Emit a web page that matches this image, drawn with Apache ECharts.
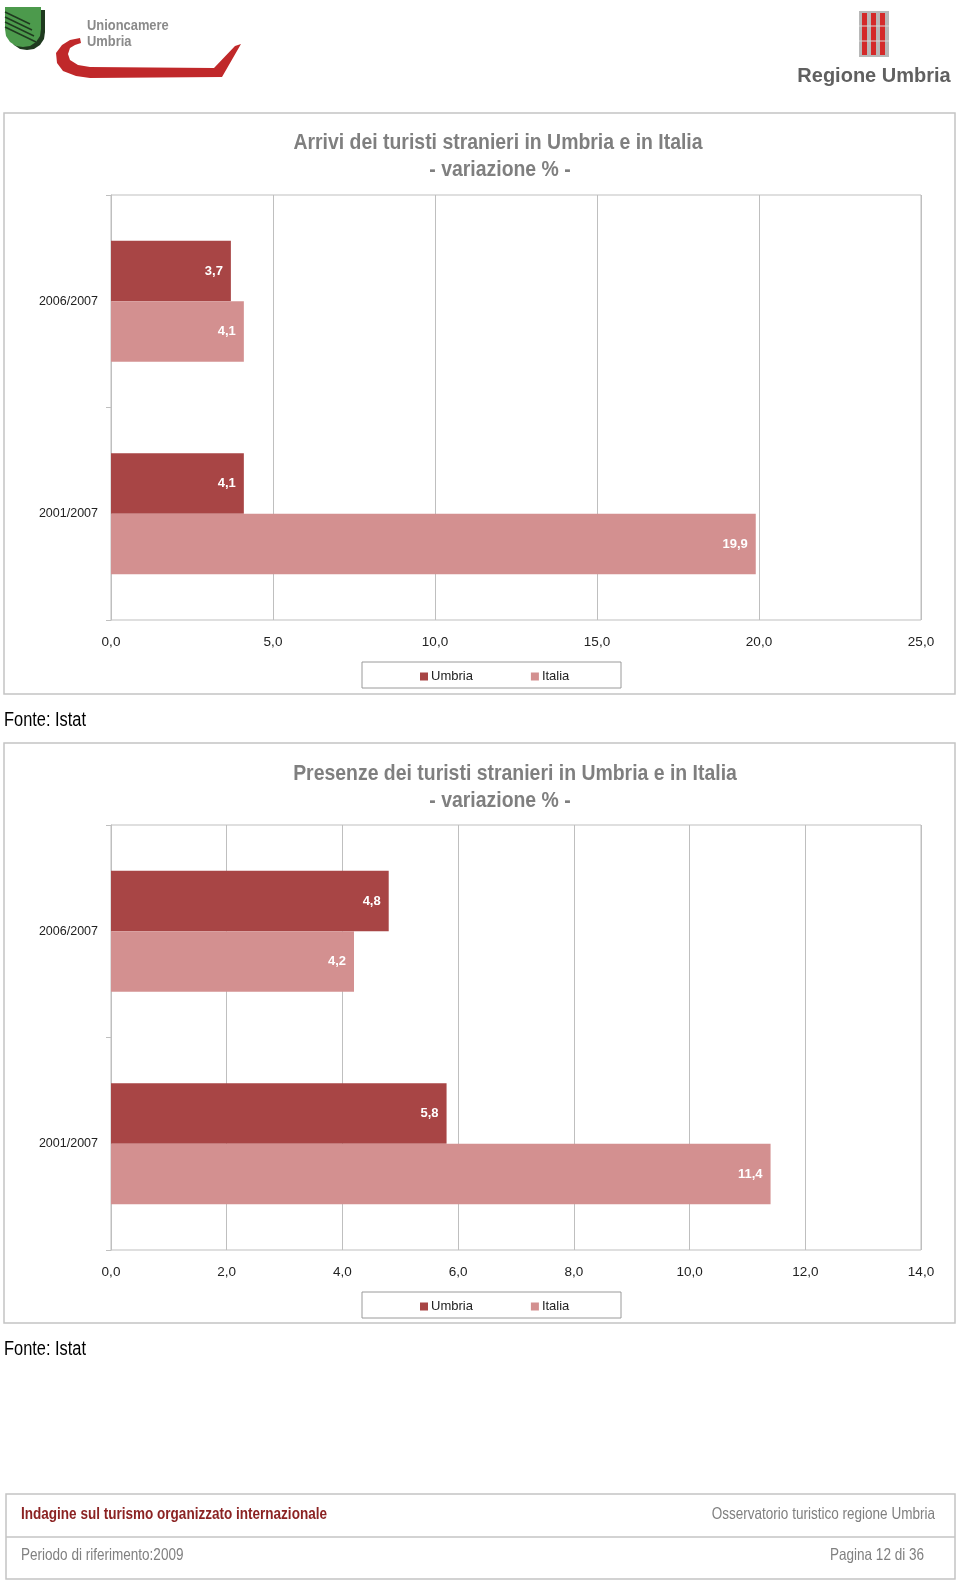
<!DOCTYPE html>
<html>
<head>
<meta charset="utf-8">
<script src="https://cdn.jsdelivr.net/npm/echarts@6/dist/echarts.min.js"></script>
<style>
html,body{margin:0;padding:0;background:#fff;}
#c{width:960px;height:1582px;}
</style>
</head>
<body>
<div id="c"></div>
<script>
// ---- data ----
const categories = ['2006/2007', '2001/2007'];
const seriesNames = ['Umbria', 'Italia'];
const arriviUmbria = [3.7, 4.1];
const arriviItalia = [4.1, 19.9];
const presenzeUmbria = [4.8, 5.8];
const presenzeItalia = [4.2, 11.4];
const arriviAxis = { min: 0, max: 25, interval: 5 };
const presenzeAxis = { min: 0, max: 14, interval: 2 };
const titleArrivi = ['Arrivi dei turisti stranieri in Umbria e in Italia', '- variazione % -'];
const titlePresenze = ['Presenze dei turisti stranieri in Umbria e in Italia', '- variazione % -'];
const sourceText = 'Fonte: Istat';

// ---- styles ----
const C_UMB = '#A84545';
const C_ITA = '#D39090';
const GRID = '#BFBFBF';
const SANS = '"Liberation Sans", Arial, sans-serif';
const fmt = v => Number(v).toFixed(1).replace('.', ',');

// condensed text via horizontal scaling (no narrow font installed)
function ntext(text, x, y, font, fill, align, sx) {
  return { type: 'text', x: x, y: y, scaleX: sx || 0.82, silent: true,
    style: { text: text, x: 0, y: 0, textAlign: align || 'left', textVerticalAlign: 'middle', font: font, fill: fill } };
}

const chart = echarts.init(document.getElementById('c'), null, { renderer: 'canvas' });

function grid(top) { return { left: 111, top: top, width: 810, height: 425, show: true, borderColor: GRID, borderWidth: 1, backgroundColor: 'transparent' }; }
function xAx(i, ax) {
  return {
    type: 'value', gridIndex: i, min: ax.min, max: ax.max, interval: ax.interval,
    axisLine: { show: false }, axisTick: { show: false },
    splitLine: { show: true, lineStyle: { color: GRID, width: 1 } },
    axisLabel: { formatter: fmt, color: '#222', fontFamily: SANS, fontSize: 13.5, margin: 15 }
  };
}
function yAx(i) {
  return {
    type: 'category', gridIndex: i, data: categories, inverse: true,
    axisLine: { show: true, lineStyle: { color: GRID } },
    axisTick: { show: true, length: 5, lineStyle: { color: GRID } },
    axisLabel: { color: '#222', fontFamily: SANS, fontSize: 12.5, margin: 13 }
  };
}
function bar(name, data, i, color) {
  return {
    type: 'bar', name: name, data: data, xAxisIndex: i, yAxisIndex: i,
    barGap: '0%', barCategoryGap: '43%',
    itemStyle: { color: color },
    label: { show: true, position: 'insideRight', distance: 8, formatter: p => fmt(p.value),
      color: '#fff', fontWeight: 'bold', fontFamily: SANS, fontSize: 13 },
    emphasis: { disabled: true }, animation: false
  };
}
function legend(top) {
  return {
    data: seriesNames, left: 420, top: top, padding: 0, icon: 'rect', itemWidth: 8, itemHeight: 8, itemGap: 58,
    textStyle: { color: '#222', fontFamily: SANS, fontSize: 13, padding: [0, 0, 0, -2] },
    selectedMode: false
  };
}

const TFONT = 'bold 22px ' + SANS;
const TSX = 0.883;
const FFONT = '16.5px ' + SANS;
const graphics = [
  // chart frames
  { type: 'rect', shape: { x: 4, y: 113, width: 951, height: 581 }, style: { fill: 'none', stroke: '#C4C4C4', lineWidth: 1.5 }, silent: true },
  { type: 'rect', shape: { x: 4, y: 743, width: 951, height: 580 }, style: { fill: 'none', stroke: '#C4C4C4', lineWidth: 1.5 }, silent: true },
  // chart titles
  ntext(titleArrivi[0], 498, 143, TFONT, '#7F7F7F', 'center', TSX),
  ntext(titleArrivi[1], 500, 170, TFONT, '#7F7F7F', 'center', TSX),
  ntext(titlePresenze[0], 515, 774, TFONT, '#7F7F7F', 'center', TSX),
  ntext(titlePresenze[1], 500, 801, TFONT, '#7F7F7F', 'center', TSX),
  // legend boxes
  { type: 'rect', shape: { x: 362, y: 662, width: 259, height: 26 }, style: { fill: 'none', stroke: '#9A9A9A', lineWidth: 1 }, silent: true },
  { type: 'rect', shape: { x: 362, y: 1292, width: 259, height: 26 }, style: { fill: 'none', stroke: '#9A9A9A', lineWidth: 1 }, silent: true },
  // sources
  ntext(sourceText, 4, 720, '20px ' + SANS, '#000'),
  ntext(sourceText, 4, 1349, '20px ' + SANS, '#000'),
  // footer
  { type: 'rect', shape: { x: 6, y: 1494, width: 949, height: 85 }, style: { fill: 'none', stroke: '#C4C4C4', lineWidth: 1.5 }, silent: true },
  { type: 'line', shape: { x1: 6, y1: 1537, x2: 955, y2: 1537 }, style: { stroke: '#C4C4C4', lineWidth: 1.5 }, silent: true },
  ntext('Indagine sul turismo organizzato internazionale', 21, 1514, 'bold 16.5px ' + SANS, '#8B2323'),
  ntext('Osservatorio turistico regione Umbria', 935, 1514, FFONT, '#808080', 'right'),
  ntext('Periodo di riferimento:2009', 21, 1555, FFONT, '#808080'),
  ntext('Pagina 12 di 36', 924, 1555, FFONT, '#808080', 'right'),
  // Unioncamere logo: shield
  { type: 'polygon', shape: { points: [[9,10],[45,10],[45,32],[44,39],[40,45],[34,49],[27,50],[20,49],[14,45],[10,39],[9,32]] }, style: { fill: '#1F3A1F' }, silent: true },
  { type: 'polygon', shape: { points: [[5,7],[41,7],[41,29],[40,36],[36,42],[30,46],[23,47],[16,46],[10,42],[6,36],[5,29]] }, style: { fill: '#4C9A4C' }, silent: true },
  { type: 'line', shape: { x1: 5, y1: 12, x2: 30, y2: 24 }, style: { stroke: '#1F3A1F', lineWidth: 1.5 }, silent: true },
  { type: 'line', shape: { x1: 5, y1: 17, x2: 32, y2: 30 }, style: { stroke: '#1F3A1F', lineWidth: 1.5 }, silent: true },
  { type: 'line', shape: { x1: 5, y1: 22, x2: 34, y2: 36 }, style: { stroke: '#1F3A1F', lineWidth: 1.5 }, silent: true },
  { type: 'line', shape: { x1: 5, y1: 27, x2: 36, y2: 42 }, style: { stroke: '#1F3A1F', lineWidth: 1.5 }, silent: true },
  // Unioncamere swoosh
  { type: 'polygon', shape: { points: [[80,38],[70,40],[62,45],[56,53],[57,63],[63,71],[76,76],[90,78],[222,77],[241,44],[235,46],[214,68],[90,67],[78,65],[70,60],[68,54],[70,48],[75,45],[81,43]] }, style: { fill: '#C0282A' }, silent: true },
  ntext('Unioncamere', 87, 26, 'bold 15px ' + SANS, '#8A8A8A', 'left', 0.86),
  ntext('Umbria', 87, 42, 'bold 15px ' + SANS, '#8A8A8A', 'left', 0.86),
  // Regione Umbria emblem
  { type: 'rect', shape: { x: 859, y: 11, width: 30, height: 46 }, style: { fill: '#B8B8B8' }, silent: true },
  { type: 'rect', shape: { x: 862, y: 13, width: 5, height: 42 }, style: { fill: '#D42A2A' }, silent: true },
  { type: 'rect', shape: { x: 871, y: 13, width: 5, height: 42 }, style: { fill: '#D42A2A' }, silent: true },
  { type: 'rect', shape: { x: 880, y: 13, width: 5, height: 42 }, style: { fill: '#D42A2A' }, silent: true },
  { type: 'line', shape: { x1: 859, y1: 26, x2: 889, y2: 26 }, style: { stroke: '#D8D8D8', lineWidth: 1 }, silent: true },
  { type: 'line', shape: { x1: 859, y1: 41, x2: 889, y2: 41 }, style: { stroke: '#D8D8D8', lineWidth: 1 }, silent: true },
  { type: 'text', silent: true, style: { text: 'Regione Umbria', x: 874, y: 76, textAlign: 'center', textVerticalAlign: 'middle', font: 'bold 20px ' + SANS, fill: '#606060' } }
];

chart.setOption({
  animation: false,
  backgroundColor: '#fff',
  color: [C_UMB, C_ITA],
  legend: [legend(670), legend(1300)],
  grid: [grid(195), grid(825)],
  xAxis: [xAx(0, arriviAxis), xAx(1, presenzeAxis)],
  yAxis: [yAx(0), yAx(1)],
  series: [
    bar('Umbria', arriviUmbria, 0, C_UMB),
    bar('Italia', arriviItalia, 0, C_ITA),
    bar('Umbria', presenzeUmbria, 1, C_UMB),
    bar('Italia', presenzeItalia, 1, C_ITA)
  ],
  graphic: graphics
});
</script>
</body>
</html>
